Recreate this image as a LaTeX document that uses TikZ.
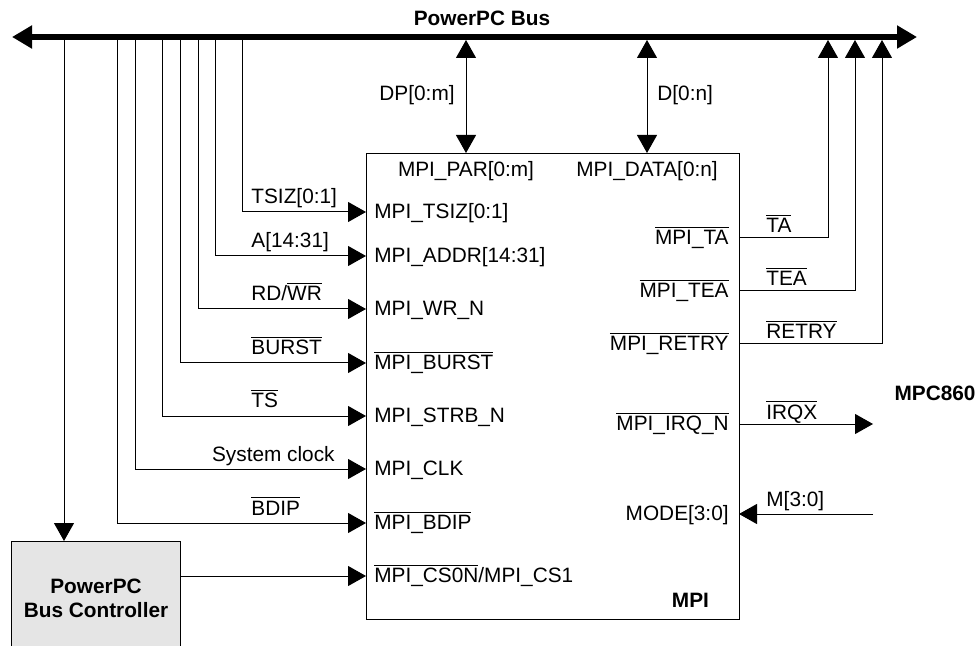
\documentclass[tikz,border=0pt]{standalone}
\usepackage{fontspec}
\setmainfont{Liberation Sans}
\usepackage{tikz}
\usetikzlibrary{arrows.meta, calc}

\newcommand{\nbar}[1]{$\overline{\mbox{#1}}$}

\begin{document}
\begin{tikzpicture}[x=0.5pt, y=-0.5pt,
	every node/.style={font=\fontsize{10.4}{12}\selectfont},
	title/.style={font=\fontsize{10.4}{12}\selectfont\bfseries},
	sig/.style={line width=0.5pt},
	tip/.style={-{Triangle[length=9pt, width=10pt]}},
	bidir/.style={{Triangle[length=9pt, width=10pt]}-{Triangle[length=9pt, width=10pt]}},
	bus/.style={line width=2.6pt, {Triangle[length=10pt, width=11pt]}-{Triangle[length=10pt, width=11pt]}},
	pinl/.style={anchor=west, inner xsep=4pt, inner ysep=0pt, text height=1.6ex, text depth=0.4ex},
	pinr/.style={anchor=east, inner xsep=5pt, inner ysep=0pt, text height=1.6ex, text depth=0.4ex},
	lbl/.style={inner sep=0pt}
	]
	\useasboundingbox (0,0) rectangle (979,646);

	% bus and its taps
	\coordinate (busl) at (12,37);
	\coordinate (busr) at (917,37);
	\draw[bus] (busl) -- (busr);
	\node[title] (bustitle) at (482,18) {PowerPC Bus};
	\coordinate (tctl) at (64,37);
	\coordinate (tbdip) at (117,37);
	\coordinate (tclk) at (135,37);
	\coordinate (tts) at (162,37);
	\coordinate (tburst) at (180,37);
	\coordinate (twr) at (198,37);
	\coordinate (taddr) at (215,37);
	\coordinate (ttsiz) at (242,37);
	\coordinate (dp) at (466,40);
	\coordinate (d) at (647,40);
	\coordinate (ta) at (828,40);
	\coordinate (tea) at (855,40);
	\coordinate (retry) at (882,40);

	% MPI block
	\node[draw, sig, minimum width=186.5pt, minimum height=233pt, anchor=north west, inner sep=0pt] (mpi) at (366,153) {};
	\node (ppar) at (466,171) {MPI\_PAR[0:m]};
	\node (pdata) at (647,171) {MPI\_DATA[0:n]};
	\node[pinl] (ptsiz) at (366,212) {MPI\_TSIZ[0:1]};
	\node[pinl] (paddr) at (366,256) {MPI\_ADDR[14:31]};
	\node[pinl] (pwr) at (366,309) {MPI\_WR\_N};
	\node[pinl] (pburst) at (366,363) {\nbar{MPI\_BURST}};
	\node[pinl] (pstrb) at (366,416) {MPI\_STRB\_N};
	\node[pinl] (pclk) at (366,469) {MPI\_CLK};
	\node[pinl] (pbdip) at (366,523) {\nbar{MPI\_BDIP}};
	\node[pinl] (pcs) at (366,576) {\nbar{MPI\_CS0N}/MPI\_CS1};
	\node[pinr] (pta) at (739,238) {\nbar{MPI\_TA}};
	\node[pinr] (ptea) at (739,291) {\nbar{MPI\_TEA}};
	\node[pinr] (pretry) at (739,344) {\nbar{MPI\_RETRY}};
	\node[pinr] (pirq) at (739,424) {\nbar{MPI\_IRQ\_N}};
	\node[pinr] (pmode) at (739,514) {MODE[3:0]};
	\node[title, anchor=east] (mpiname) at (716,600) {MPI};

	% bus controller
	\node[draw, sig, fill=black!10, minimum width=84.5pt, minimum height=57pt, anchor=north west, align=center, title] (ctrl) at (11,541) {PowerPC\\Bus Controller};
	\node[title] (mpc) at (935,393) {MPC860};
	\coordinate (irqx) at (873,424);
	\coordinate (mdrv) at (873,514);

	% data buses
	\draw[sig, bidir] (dp) -- (dp |- mpi.north);
	\draw[sig, bidir] (d) -- (d |- mpi.north);
	\node[lbl, anchor=east] (dplbl) at (455,95) {DP[0:m]};
	\node[lbl, anchor=west] (dlbl) at (657,95) {D[0:n]};

	% inputs
	\draw[sig, tip] (ttsiz) |- (ptsiz.west);
	\draw[sig, tip] (taddr) |- (paddr.west);
	\draw[sig, tip] (twr) |- (pwr.west);
	\draw[sig, tip] (tburst) |- (pburst.west);
	\draw[sig, tip] (tts) |- (pstrb.west);
	\draw[sig, tip] (tclk) |- (pclk.west);
	\draw[sig, tip] (tbdip) |- (pbdip.west);
	\draw[sig, tip] (tctl) -- (tctl |- ctrl.north);
	\draw[sig, tip] (ctrl.east |- pcs.west) -- (pcs.west);
	\node[lbl, anchor=base west] (ltsiz) at (251,204) {TSIZ[0:1]};
	\node[lbl, anchor=base west] (laddr) at (251,248) {A[14:31]};
	\node[lbl, anchor=base west] (lwr) at (251,301) {RD/\nbar{WR}};
	\node[lbl, anchor=base west] (lburst) at (251,355) {\nbar{BURST}};
	\node[lbl, anchor=base west] (lts) at (251,408) {\nbar{TS}};
	\node[lbl, anchor=base east] (lclk) at (335,461) {System clock};
	\node[lbl, anchor=base west] (lbdip) at (251,515) {\nbar{BDIP}};

	% outputs
	\draw[sig, tip] (pta.east) -| (ta);
	\draw[sig, tip] (ptea.east) -| (tea);
	\draw[sig, tip] (pretry.east) -| (retry);
	\draw[sig, tip] (pirq.east) -- (irqx);
	\draw[sig, tip] (mdrv) -- (pmode.east);
	\node[lbl, anchor=base west] (lta) at (766,233) {\nbar{TA}};
	\node[lbl, anchor=base west] (ltea) at (766,286) {\nbar{TEA}};
	\node[lbl, anchor=base west] (lretry) at (766,339) {\nbar{RETRY}};
	\node[lbl, anchor=base west] (lirq) at (766,419) {\nbar{IRQX}};
	\node[lbl, anchor=base west] (lm) at (766,506) {M[3:0]};
\end{tikzpicture}
\end{document}
